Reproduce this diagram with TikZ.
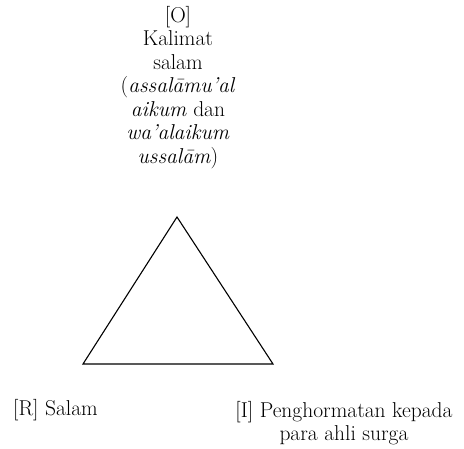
\documentclass[tikz,border=0pt]{standalone}
\begin{document}
\begin{tikzpicture}[x=1pt,y=1pt,
  lbl/.style={inner sep=0pt,font=\fontsize{21.5}{23.5}\selectfont,align=center},
  tri/.style={draw=black,line width=1.1pt,line join=miter}]
\useasboundingbox (0,0) rectangle (464,449);
\coordinate (A) at (177,232);
\coordinate (B) at (83,85);
\coordinate (C) at (273,85);
\draw[tri] (A) -- (B) -- (C) -- cycle;
\node[lbl,anchor=north] (O) at (178,443) {[O]\\Kalimat\\salam\\(\textit{assalāmu’al}\\\textit{aikum} dan\\\textit{wa’alaikum}\\\textit{ussalām})};
\node[lbl,anchor=base west] (R) at (13,33) {[R] Salam};
\node[lbl,anchor=north] (I) at (344,48) {[I] Penghormatan kepada\\para ahli surga};
\end{tikzpicture}
\end{document}
